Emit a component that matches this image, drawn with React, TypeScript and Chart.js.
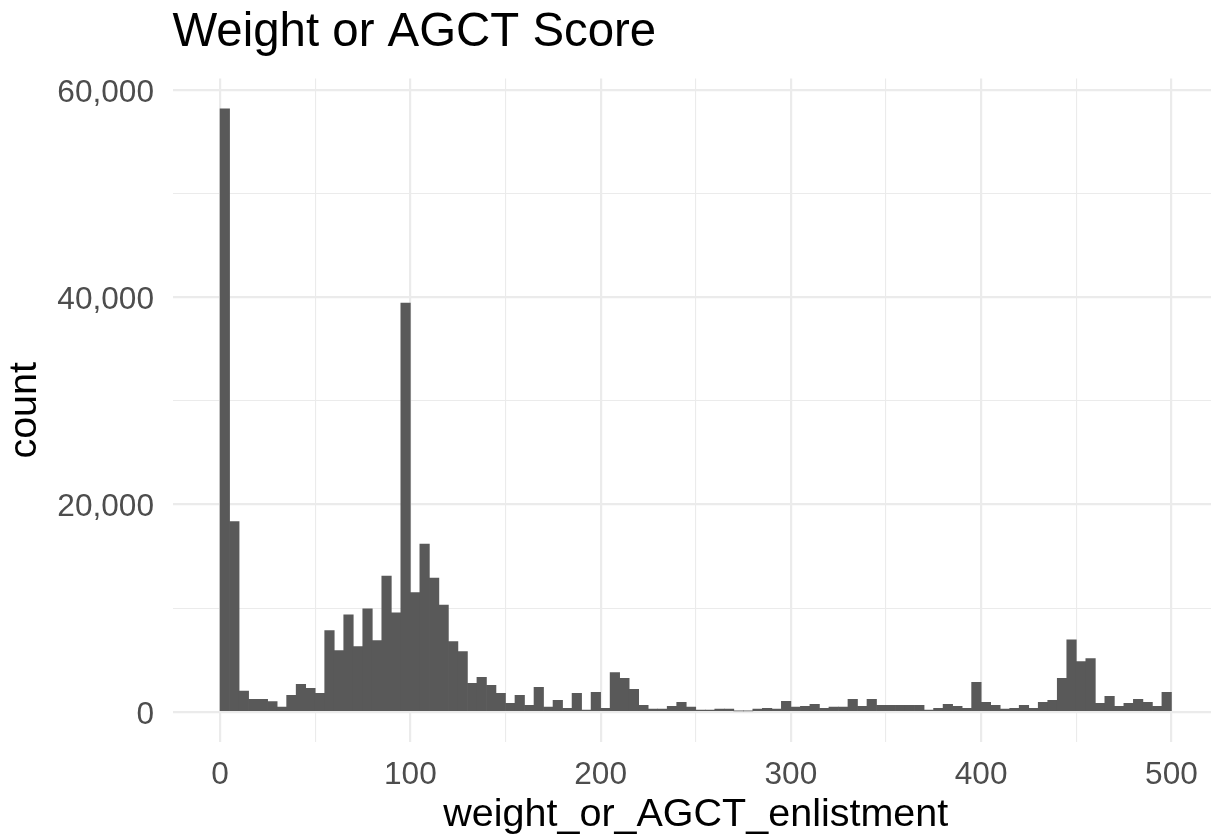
import React, { useEffect, useRef } from "react";
import { Chart, registerables } from "chart.js";

Chart.register(...registerables);

const binWidth = 5;
const binStarts: number[] = Array.from({ length: 100 }, (_, i) => i * binWidth);
const counts: number[] = [
  58200, 18350, 2000, 1200, 1200, 1000, 450, 1600, 2650, 2270,
  1790, 7840, 5920, 9370, 6300, 9950, 6880, 13100, 9560, 39450,
  11500, 16200, 12900, 10300, 6780, 5820, 2750, 3330, 2560, 1790,
  830, 1600, 640, 2360, 450, 1120, 350, 1790, 160, 1880,
  350, 3800, 3230, 2170, 640, 260, 260, 540, 930, 450,
  160, 160, 260, 260, 100, 100, 260, 350, 260, 1020,
  450, 540, 730, 350, 450, 450, 1210, 540, 1210, 640,
  640, 640, 640, 640, 160, 350, 730, 540, 350, 2840,
  930, 640, 260, 350, 640, 350, 930, 1120, 3230, 6960,
  4860, 5140, 830, 1500, 540, 830, 1210, 930, 540, 1880,
];
const xGridValues: number[] = [0, 50, 100, 150, 200, 250, 300, 350, 400, 450, 500];
const xTickLabels: number[] = [0, 100, 200, 300, 400, 500];
const yGridValues: number[] = [0, 10000, 20000, 30000, 40000, 50000, 60000];
const yTickLabels: number[] = [0, 20000, 40000, 60000];

const FONT = "'Liberation Sans', Arial, Helvetica, sans-serif";

export default function App() {
  const ref = useRef<HTMLCanvasElement | null>(null);

  useEffect(() => {
    if (!ref.current) return;
    const data = binStarts.map((s, i) => ({ x: s + binWidth / 2, y: counts[i] }));
    const chart = new Chart(ref.current, {
      type: "bar",
      data: {
        datasets: [
          {
            data,
            backgroundColor: "#595959",
            borderWidth: 0,
            barPercentage: 1,
            categoryPercentage: 1,
          },
        ],
      },
      options: {
        animation: false,
        responsive: false,
        devicePixelRatio: 1,
        layout: { padding: 0 },
        plugins: {
          legend: { display: false },
          tooltip: { enabled: false },
          title: {
            display: true,
            text: "Weight or AGCT Score",
            align: "start",
            fullSize: false,
            color: "#000000",
            font: { family: FONT, size: 47.4, weight: "normal", lineHeight: 1.2 },
            padding: { top: 4.1, bottom: 17.6 },
          },
        },
        scales: {
          x: {
            type: "linear",
            min: -25,
            max: 525,
            offset: false,
            border: { display: false },
            grid: {
              offset: false,
              drawTicks: false,
              color: "#EBEBEB",
              lineWidth: (ctx: any) =>
                ctx.tick && xTickLabels.includes(ctx.tick.value) ? 2.2 : 1.1,
            },
            afterBuildTicks: (scale: any) => {
              scale.ticks = xGridValues.map((v) => ({ value: v }));
            },
            ticks: {
              autoSkip: false,
              maxRotation: 0,
              padding: 14.2,
              color: "#4D4D4D",
              font: { family: FONT, size: 31.6, lineHeight: 1.2 },
              callback: (v: any) => (xTickLabels.includes(Number(v)) ? String(v) : ""),
            },
            title: {
              display: true,
              text: "weight_or_AGCT_enlistment",
              color: "#000000",
              font: { family: FONT, size: 39.5, lineHeight: 1 },
              padding: { top: 0, bottom: 1 },
            },
            afterFit: (scale: any) => {
              scale.height = 94;
            },
          },
          y: {
            type: "linear",
            min: -2910,
            max: 61110,
            border: { display: false },
            grid: {
              drawTicks: false,
              color: "#EBEBEB",
              lineWidth: (ctx: any) =>
                ctx.tick && yTickLabels.includes(ctx.tick.value) ? 2.2 : 1.1,
            },
            afterBuildTicks: (scale: any) => {
              scale.ticks = yGridValues.map((v) => ({ value: v }));
            },
            ticks: {
              autoSkip: false,
              padding: 18.5,
              labelOffset: 3,
              color: "#4D4D4D",
              font: { family: FONT, size: 31.6, lineHeight: 1.2 },
              callback: (v: any) =>
                yTickLabels.includes(Number(v)) ? Number(v).toLocaleString("en-US") : "",
            },
            title: {
              display: true,
              text: "count",
              color: "#000000",
              font: { family: FONT, size: 39.5, lineHeight: 1 },
              padding: { top: 5.2, bottom: 0 },
            },
            afterFit: (scale: any) => {
              scale.width = 172.5;
            },
          },
        },
      },
    });
    return () => chart.destroy();
  }, []);

  return (
    <div
      style={{
        position: "fixed",
        left: 0,
        top: 0,
        width: 1211,
        height: 836,
        overflow: "hidden",
        background: "#ffffff",
      }}
    >
      <canvas ref={ref} width={1219} height={836} style={{ display: "block", width: 1219, height: 836 }} />
    </div>
  );
}
